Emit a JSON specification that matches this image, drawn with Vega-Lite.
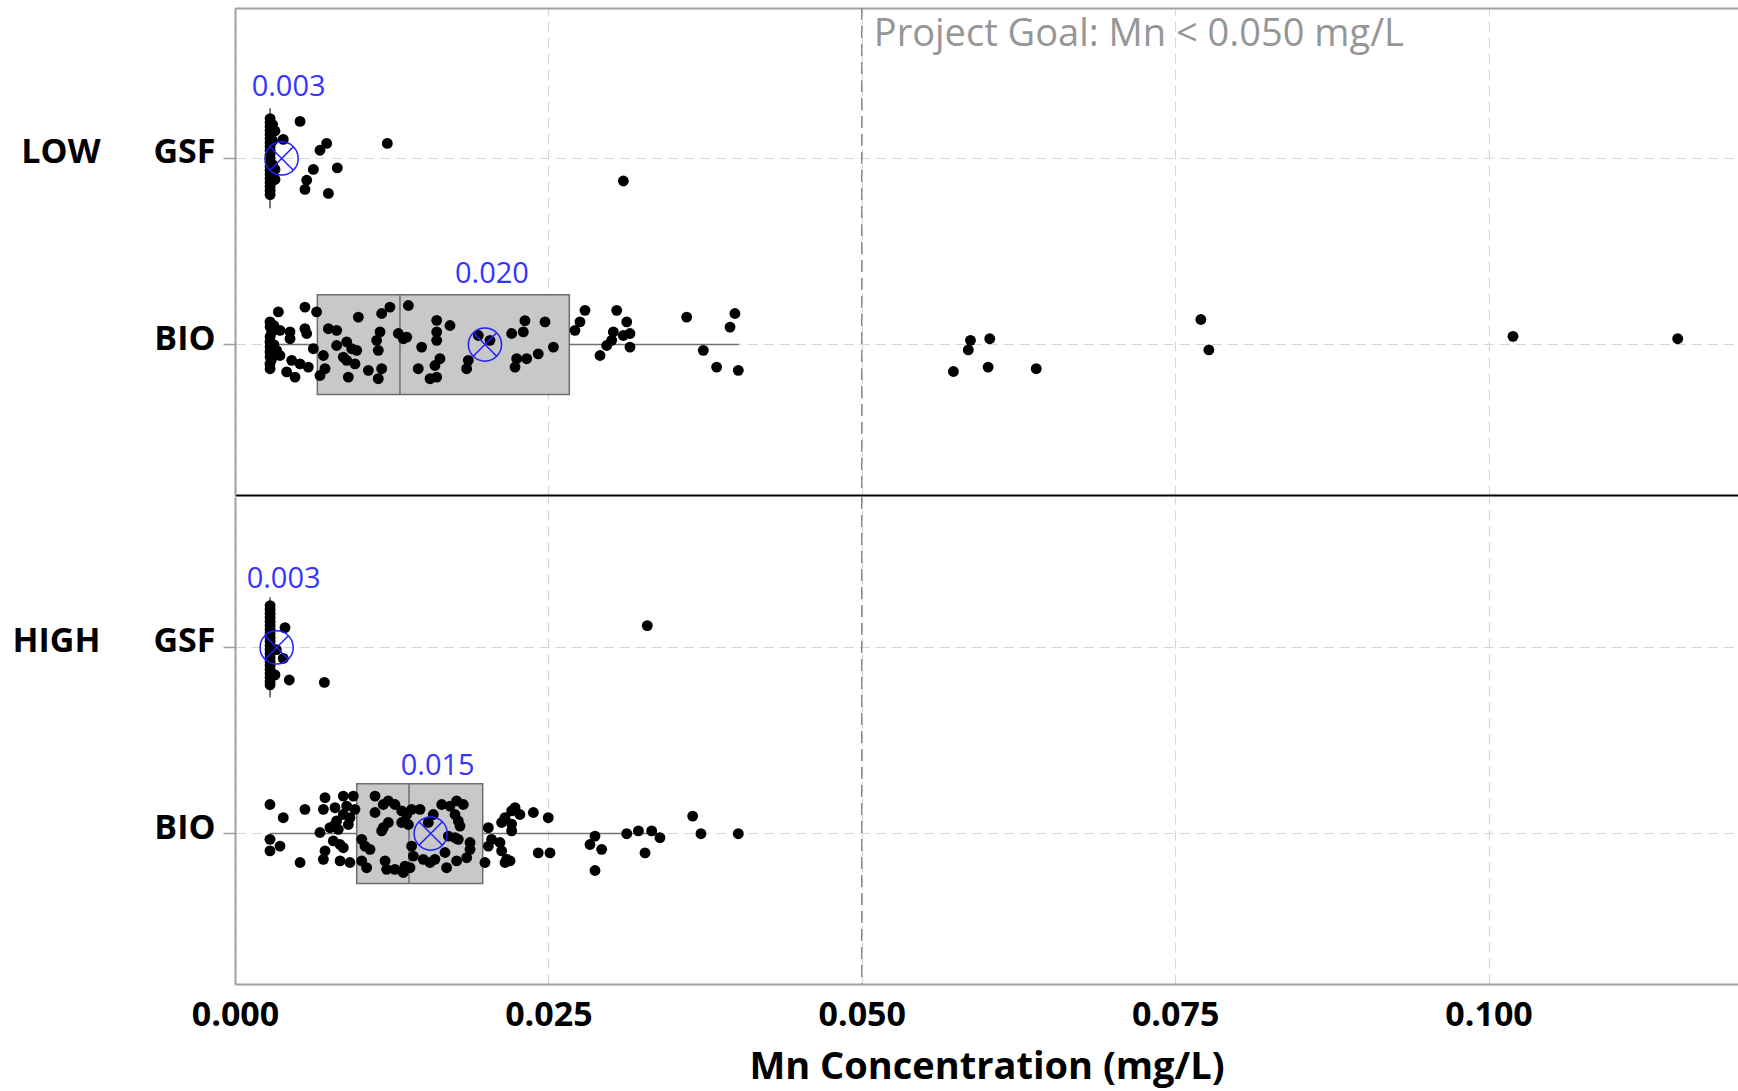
{
  "$schema": "https://vega.github.io/schema/vega-lite/v6.json",
  "background": "white",
  "padding": {"left": 10, "top": 7, "right": 0, "bottom": 5},
  "spacing": 0,
  "config": {
    "font": "Open Sans",
    "view": {"stroke": null},
    "concat": {"spacing": 0}
  },
  "datasets": {
    "stats": [
      {"l":"LOW","t":"GSF","lo":0.0028,"q1":0.0028,"med":0.0028,"q3":0.0028,"hi":0.0028,"mean":0.00372,"label":"0.003"},
      {"l":"LOW","t":"BIO","lo":0.0028,"q1":0.00657,"med":0.01316,"q3":0.02667,"hi":0.0402,"mean":0.01994,"label":"0.020"},
      {"l":"HIGH","t":"GSF","lo":0.0028,"q1":0.0028,"med":0.0028,"q3":0.0028,"hi":0.0028,"mean":0.00332,"label":"0.003"},
      {"l":"HIGH","t":"BIO","lo":0.0028,"q1":0.00971,"med":0.01388,"q3":0.01976,"hi":0.0339,"mean":0.01561,"label":"0.015"}
    ],
    "pts": [
      {"l":"LOW","t":"GSF","v":0.0028,"j":-1.0},{"l":"LOW","t":"GSF","v":0.0028,"j":-0.9},{"l":"LOW","t":"GSF","v":0.0028,"j":-0.8},{"l":"LOW","t":"GSF","v":0.0028,"j":-0.7},{"l":"LOW","t":"GSF","v":0.0028,"j":-0.6},{"l":"LOW","t":"GSF","v":0.0028,"j":-0.5},{"l":"LOW","t":"GSF","v":0.0028,"j":-0.4},{"l":"LOW","t":"GSF","v":0.0028,"j":-0.3},{"l":"LOW","t":"GSF","v":0.0028,"j":-0.2},{"l":"LOW","t":"GSF","v":0.0028,"j":-0.1},{"l":"LOW","t":"GSF","v":0.0028,"j":0.0},{"l":"LOW","t":"GSF","v":0.0028,"j":0.1},{"l":"LOW","t":"GSF","v":0.0028,"j":0.2},{"l":"LOW","t":"GSF","v":0.0028,"j":0.3},{"l":"LOW","t":"GSF","v":0.0028,"j":0.4},{"l":"LOW","t":"GSF","v":0.0028,"j":0.5},{"l":"LOW","t":"GSF","v":0.0028,"j":0.6},{"l":"LOW","t":"GSF","v":0.0028,"j":0.7},{"l":"LOW","t":"GSF","v":0.0028,"j":0.8},{"l":"LOW","t":"GSF","v":0.0028,"j":0.9},
      {"l":"LOW","t":"GSF","v":0.0030,"j":-0.85},{"l":"LOW","t":"GSF","v":0.0030,"j":-0.45},{"l":"LOW","t":"GSF","v":0.0030,"j":0.15},{"l":"LOW","t":"GSF","v":0.0030,"j":0.55},
      {"l":"LOW","t":"GSF","v":0.00319,"j":-0.69},{"l":"LOW","t":"GSF","v":0.00385,"j":-0.48},{"l":"LOW","t":"GSF","v":0.00519,"j":-0.93},{"l":"LOW","t":"GSF","v":0.00731,"j":-0.38},{"l":"LOW","t":"GSF","v":0.00678,"j":-0.21},{"l":"LOW","t":"GSF","v":0.00625,"j":0.27},{"l":"LOW","t":"GSF","v":0.00816,"j":0.23},{"l":"LOW","t":"GSF","v":0.00572,"j":0.54},{"l":"LOW","t":"GSF","v":0.00558,"j":0.77},{"l":"LOW","t":"GSF","v":0.00745,"j":0.87},{"l":"LOW","t":"GSF","v":0.01215,"j":-0.38},{"l":"LOW","t":"GSF","v":0.03098,"j":0.56},{"l":"LOW","t":"GSF","v":0.00319,"j":0.27},{"l":"LOW","t":"GSF","v":0.00319,"j":0.52},

      {"l":"LOW","t":"BIO","v":0.00346,"j":-0.82},{"l":"LOW","t":"BIO","v":0.00558,"j":-0.94},{"l":"LOW","t":"BIO","v":0.00651,"j":-0.82},{"l":"LOW","t":"BIO","v":0.00279,"j":-0.57},{"l":"LOW","t":"BIO","v":0.00293,"j":-0.32},{"l":"LOW","t":"BIO","v":0.00279,"j":-0.07},{"l":"LOW","t":"BIO","v":0.00279,"j":0.18},{"l":"LOW","t":"BIO","v":0.00279,"j":0.48},{"l":"LOW","t":"BIO","v":0.00359,"j":-0.36},{"l":"LOW","t":"BIO","v":0.00439,"j":-0.32},{"l":"LOW","t":"BIO","v":0.00439,"j":-0.15},{"l":"LOW","t":"BIO","v":0.00558,"j":-0.4},{"l":"LOW","t":"BIO","v":0.00572,"j":-0.28},{"l":"LOW","t":"BIO","v":0.00332,"j":0.14},{"l":"LOW","t":"BIO","v":0.00359,"j":0.27},{"l":"LOW","t":"BIO","v":0.00452,"j":0.39},{"l":"LOW","t":"BIO","v":0.00519,"j":0.48},{"l":"LOW","t":"BIO","v":0.00585,"j":0.56},{"l":"LOW","t":"BIO","v":0.00412,"j":0.68},{"l":"LOW","t":"BIO","v":0.00479,"j":0.81},
      {"l":"LOW","t":"BIO","v":0.00625,"j":0.1},{"l":"LOW","t":"BIO","v":0.00705,"j":0.27},{"l":"LOW","t":"BIO","v":0.00718,"j":0.6},{"l":"LOW","t":"BIO","v":0.00678,"j":0.77},{"l":"LOW","t":"BIO","v":0.00745,"j":-0.4},{"l":"LOW","t":"BIO","v":0.00811,"j":-0.36},{"l":"LOW","t":"BIO","v":0.00984,"j":-0.69},{"l":"LOW","t":"BIO","v":0.0117,"j":-0.78},{"l":"LOW","t":"BIO","v":0.01236,"j":-0.94},{"l":"LOW","t":"BIO","v":0.00811,"j":0.02},{"l":"LOW","t":"BIO","v":0.00891,"j":-0.07},{"l":"LOW","t":"BIO","v":0.00931,"j":0.1},{"l":"LOW","t":"BIO","v":0.00971,"j":0.14},{"l":"LOW","t":"BIO","v":0.00864,"j":0.31},{"l":"LOW","t":"BIO","v":0.00891,"j":0.39},{"l":"LOW","t":"BIO","v":0.00957,"j":0.48},{"l":"LOW","t":"BIO","v":0.01064,"j":0.64},{"l":"LOW","t":"BIO","v":0.0117,"j":0.6},{"l":"LOW","t":"BIO","v":0.01143,"j":0.85},{"l":"LOW","t":"BIO","v":0.00904,"j":0.81},
      {"l":"LOW","t":"BIO","v":0.01157,"j":-0.32},{"l":"LOW","t":"BIO","v":0.0113,"j":-0.11},{"l":"LOW","t":"BIO","v":0.01143,"j":0.14},{"l":"LOW","t":"BIO","v":0.01303,"j":-0.28},{"l":"LOW","t":"BIO","v":0.01343,"j":-0.15},{"l":"LOW","t":"BIO","v":0.0137,"j":-0.19},{"l":"LOW","t":"BIO","v":0.01383,"j":-0.98},{"l":"LOW","t":"BIO","v":0.01489,"j":0.06},{"l":"LOW","t":"BIO","v":0.01609,"j":-0.61},{"l":"LOW","t":"BIO","v":0.01609,"j":-0.32},{"l":"LOW","t":"BIO","v":0.01609,"j":-0.11},{"l":"LOW","t":"BIO","v":0.01715,"j":-0.48},{"l":"LOW","t":"BIO","v":0.01462,"j":0.6},{"l":"LOW","t":"BIO","v":0.01556,"j":0.85},{"l":"LOW","t":"BIO","v":0.01609,"j":0.81},{"l":"LOW","t":"BIO","v":0.01635,"j":0.35},{"l":"LOW","t":"BIO","v":0.01595,"j":0.52},{"l":"LOW","t":"BIO","v":0.01861,"j":0.39},{"l":"LOW","t":"BIO","v":0.01848,"j":0.6},{"l":"LOW","t":"BIO","v":0.01941,"j":-0.23},{"l":"LOW","t":"BIO","v":0.02034,"j":-0.11},
      {"l":"LOW","t":"BIO","v":0.0028,"j":-0.45},{"l":"LOW","t":"BIO","v":0.0028,"j":-0.2},{"l":"LOW","t":"BIO","v":0.0028,"j":0.05},{"l":"LOW","t":"BIO","v":0.0028,"j":0.3},{"l":"LOW","t":"BIO","v":0.0028,"j":0.6},{"l":"LOW","t":"BIO","v":0.0031,"j":-0.48},{"l":"LOW","t":"BIO","v":0.0030,"j":0.27},{"l":"LOW","t":"BIO","v":0.0031,"j":0.0},{"l":"LOW","t":"BIO","v":0.0029,"j":0.38},
      {"l":"LOW","t":"BIO","v":0.02313,"j":-0.6},{"l":"LOW","t":"BIO","v":0.023,"j":-0.32},{"l":"LOW","t":"BIO","v":0.02473,"j":-0.57},{"l":"LOW","t":"BIO","v":0.0254,"j":0.06},{"l":"LOW","t":"BIO","v":0.02247,"j":0.35},{"l":"LOW","t":"BIO","v":0.02234,"j":0.56},{"l":"LOW","t":"BIO","v":0.02327,"j":0.35},{"l":"LOW","t":"BIO","v":0.02419,"j":0.23},{"l":"LOW","t":"BIO","v":0.02207,"j":-0.28},{"l":"LOW","t":"BIO","v":0.02792,"j":-0.86},{"l":"LOW","t":"BIO","v":0.02752,"j":-0.57},{"l":"LOW","t":"BIO","v":0.02712,"j":-0.36},{"l":"LOW","t":"BIO","v":0.03045,"j":-0.86},{"l":"LOW","t":"BIO","v":0.03125,"j":-0.57},{"l":"LOW","t":"BIO","v":0.03018,"j":-0.32},{"l":"LOW","t":"BIO","v":0.03098,"j":-0.23},{"l":"LOW","t":"BIO","v":0.03151,"j":-0.28},{"l":"LOW","t":"BIO","v":0.03005,"j":-0.11},{"l":"LOW","t":"BIO","v":0.02965,"j":0.02},{"l":"LOW","t":"BIO","v":0.03151,"j":0.06},{"l":"LOW","t":"BIO","v":0.02912,"j":0.27},{"l":"LOW","t":"BIO","v":0.03603,"j":-0.69},{"l":"LOW","t":"BIO","v":0.03736,"j":0.14},{"l":"LOW","t":"BIO","v":0.03842,"j":0.56},{"l":"LOW","t":"BIO","v":0.04015,"j":0.64},{"l":"LOW","t":"BIO","v":0.03949,"j":-0.44},{"l":"LOW","t":"BIO","v":0.03988,"j":-0.78},
      {"l":"LOW","t":"BIO","v":0.05731,"j":0.67},{"l":"LOW","t":"BIO","v":0.0585,"j":0.13},{"l":"LOW","t":"BIO","v":0.05867,"j":-0.11},{"l":"LOW","t":"BIO","v":0.06021,"j":-0.15},{"l":"LOW","t":"BIO","v":0.06008,"j":0.56},{"l":"LOW","t":"BIO","v":0.06392,"j":0.6},{"l":"LOW","t":"BIO","v":0.07705,"j":-0.63},{"l":"LOW","t":"BIO","v":0.07769,"j":0.13},{"l":"LOW","t":"BIO","v":0.10195,"j":-0.21},{"l":"LOW","t":"BIO","v":0.11509,"j":-0.15},

      {"l":"HIGH","t":"GSF","v":0.0028,"j":-1.05},{"l":"HIGH","t":"GSF","v":0.0028,"j":-0.95},{"l":"HIGH","t":"GSF","v":0.0028,"j":-0.85},{"l":"HIGH","t":"GSF","v":0.0028,"j":-0.75},{"l":"HIGH","t":"GSF","v":0.0028,"j":-0.65},{"l":"HIGH","t":"GSF","v":0.0028,"j":-0.55},{"l":"HIGH","t":"GSF","v":0.0028,"j":-0.45},{"l":"HIGH","t":"GSF","v":0.0028,"j":-0.35},{"l":"HIGH","t":"GSF","v":0.0028,"j":-0.25},{"l":"HIGH","t":"GSF","v":0.0028,"j":-0.15},{"l":"HIGH","t":"GSF","v":0.0028,"j":-0.05},{"l":"HIGH","t":"GSF","v":0.0028,"j":0.05},{"l":"HIGH","t":"GSF","v":0.0028,"j":0.15},{"l":"HIGH","t":"GSF","v":0.0028,"j":0.25},{"l":"HIGH","t":"GSF","v":0.0028,"j":0.35},{"l":"HIGH","t":"GSF","v":0.0028,"j":0.45},{"l":"HIGH","t":"GSF","v":0.0028,"j":0.55},{"l":"HIGH","t":"GSF","v":0.0028,"j":0.65},{"l":"HIGH","t":"GSF","v":0.0028,"j":0.75},{"l":"HIGH","t":"GSF","v":0.0028,"j":0.85},{"l":"HIGH","t":"GSF","v":0.0028,"j":0.93},
      {"l":"HIGH","t":"GSF","v":0.00399,"j":-0.5},{"l":"HIGH","t":"GSF","v":0.00433,"j":0.81},{"l":"HIGH","t":"GSF","v":0.00713,"j":0.87},{"l":"HIGH","t":"GSF","v":0.03289,"j":-0.55},{"l":"HIGH","t":"GSF","v":0.00385,"j":0.27},{"l":"HIGH","t":"GSF","v":0.00319,"j":0.68},{"l":"HIGH","t":"GSF","v":0.0033,"j":0.05},

      {"l":"HIGH","t":"BIO","v":0.00279,"j":-0.73},{"l":"HIGH","t":"BIO","v":0.00385,"j":-0.4},{"l":"HIGH","t":"BIO","v":0.00558,"j":-0.61},{"l":"HIGH","t":"BIO","v":0.00279,"j":0.14},{"l":"HIGH","t":"BIO","v":0.00279,"j":0.43},{"l":"HIGH","t":"BIO","v":0.00359,"j":0.31},{"l":"HIGH","t":"BIO","v":0.00519,"j":0.72},{"l":"HIGH","t":"BIO","v":0.00718,"j":-0.9},{"l":"HIGH","t":"BIO","v":0.00705,"j":-0.61},{"l":"HIGH","t":"BIO","v":0.00718,"j":0.43},{"l":"HIGH","t":"BIO","v":0.00705,"j":0.64},{"l":"HIGH","t":"BIO","v":0.00678,"j":-0.03},{"l":"HIGH","t":"BIO","v":0.00758,"j":-0.15},{"l":"HIGH","t":"BIO","v":0.00811,"j":-0.32},{"l":"HIGH","t":"BIO","v":0.00798,"j":-0.65},{"l":"HIGH","t":"BIO","v":0.00864,"j":-0.94},{"l":"HIGH","t":"BIO","v":0.00891,"j":-0.69},{"l":"HIGH","t":"BIO","v":0.00944,"j":-0.94},{"l":"HIGH","t":"BIO","v":0.00957,"j":-0.61},{"l":"HIGH","t":"BIO","v":0.00917,"j":-0.4},{"l":"HIGH","t":"BIO","v":0.00864,"j":-0.48},{"l":"HIGH","t":"BIO","v":0.00784,"j":0.18},{"l":"HIGH","t":"BIO","v":0.00838,"j":0.27},{"l":"HIGH","t":"BIO","v":0.00864,"j":0.35},{"l":"HIGH","t":"BIO","v":0.00824,"j":-0.11},{"l":"HIGH","t":"BIO","v":0.00838,"j":0.68},{"l":"HIGH","t":"BIO","v":0.00917,"j":0.72},{"l":"HIGH","t":"BIO","v":0.00798,"j":-0.23},{"l":"HIGH","t":"BIO","v":0.00904,"j":-0.23},
      {"l":"HIGH","t":"BIO","v":0.01011,"j":0.14},{"l":"HIGH","t":"BIO","v":0.01037,"j":0.31},{"l":"HIGH","t":"BIO","v":0.01077,"j":0.39},{"l":"HIGH","t":"BIO","v":0.01011,"j":0.68},{"l":"HIGH","t":"BIO","v":0.0105,"j":0.85},{"l":"HIGH","t":"BIO","v":0.01117,"j":-0.94},{"l":"HIGH","t":"BIO","v":0.01117,"j":-0.53},{"l":"HIGH","t":"BIO","v":0.01183,"j":-0.73},{"l":"HIGH","t":"BIO","v":0.01223,"j":-0.82},{"l":"HIGH","t":"BIO","v":0.01276,"j":-0.73},{"l":"HIGH","t":"BIO","v":0.0133,"j":-0.57},{"l":"HIGH","t":"BIO","v":0.0137,"j":-0.48},{"l":"HIGH","t":"BIO","v":0.01409,"j":-0.61},{"l":"HIGH","t":"BIO","v":0.01476,"j":-0.61},{"l":"HIGH","t":"BIO","v":0.01183,"j":-0.15},{"l":"HIGH","t":"BIO","v":0.0117,"j":-0.07},{"l":"HIGH","t":"BIO","v":0.01223,"j":-0.28},{"l":"HIGH","t":"BIO","v":0.01197,"j":0.68},{"l":"HIGH","t":"BIO","v":0.0121,"j":0.89},{"l":"HIGH","t":"BIO","v":0.01276,"j":0.89},{"l":"HIGH","t":"BIO","v":0.01356,"j":0.81},{"l":"HIGH","t":"BIO","v":0.01343,"j":0.97},{"l":"HIGH","t":"BIO","v":0.0133,"j":-0.28},{"l":"HIGH","t":"BIO","v":0.01383,"j":-0.23},{"l":"HIGH","t":"BIO","v":0.01409,"j":0.31},{"l":"HIGH","t":"BIO","v":0.01423,"j":0.56},{"l":"HIGH","t":"BIO","v":0.01396,"j":0.85},
      {"l":"HIGH","t":"BIO","v":0.01542,"j":-0.28},{"l":"HIGH","t":"BIO","v":0.01582,"j":-0.48},{"l":"HIGH","t":"BIO","v":0.01502,"j":0.64},{"l":"HIGH","t":"BIO","v":0.01556,"j":0.72},{"l":"HIGH","t":"BIO","v":0.01595,"j":0.64},{"l":"HIGH","t":"BIO","v":0.01649,"j":-0.73},{"l":"HIGH","t":"BIO","v":0.01715,"j":-0.69},{"l":"HIGH","t":"BIO","v":0.01768,"j":-0.82},{"l":"HIGH","t":"BIO","v":0.01821,"j":-0.73},{"l":"HIGH","t":"BIO","v":0.01755,"j":-0.48},{"l":"HIGH","t":"BIO","v":0.01781,"j":-0.32},{"l":"HIGH","t":"BIO","v":0.01795,"j":-0.19},{"l":"HIGH","t":"BIO","v":0.01702,"j":0.06},{"l":"HIGH","t":"BIO","v":0.01755,"j":0.1},{"l":"HIGH","t":"BIO","v":0.01781,"j":0.14},{"l":"HIGH","t":"BIO","v":0.01675,"j":0.47},{"l":"HIGH","t":"BIO","v":0.01688,"j":0.85},{"l":"HIGH","t":"BIO","v":0.01768,"j":0.68},{"l":"HIGH","t":"BIO","v":0.01848,"j":0.6},{"l":"HIGH","t":"BIO","v":0.01875,"j":0.22},{"l":"HIGH","t":"BIO","v":0.01875,"j":0.39},{"l":"HIGH","t":"BIO","v":0.01994,"j":0.72},{"l":"HIGH","t":"BIO","v":0.02021,"j":-0.15},{"l":"HIGH","t":"BIO","v":0.02047,"j":0.14},{"l":"HIGH","t":"BIO","v":0.02021,"j":0.31},{"l":"HIGH","t":"BIO","v":0.02127,"j":-0.28},{"l":"HIGH","t":"BIO","v":0.02154,"j":-0.4},{"l":"HIGH","t":"BIO","v":0.02207,"j":-0.57},{"l":"HIGH","t":"BIO","v":0.02234,"j":-0.65},{"l":"HIGH","t":"BIO","v":0.02273,"j":-0.48},{"l":"HIGH","t":"BIO","v":0.02114,"j":0.22},{"l":"HIGH","t":"BIO","v":0.02127,"j":0.43},{"l":"HIGH","t":"BIO","v":0.02154,"j":0.72},{"l":"HIGH","t":"BIO","v":0.02167,"j":0.64},
      {"l":"HIGH","t":"BIO","v":0.0238,"j":-0.53},{"l":"HIGH","t":"BIO","v":0.02499,"j":-0.4},{"l":"HIGH","t":"BIO","v":0.02207,"j":-0.24},{"l":"HIGH","t":"BIO","v":0.02207,"j":-0.07},{"l":"HIGH","t":"BIO","v":0.02419,"j":0.48},{"l":"HIGH","t":"BIO","v":0.02513,"j":0.48},{"l":"HIGH","t":"BIO","v":0.02194,"j":0.68},{"l":"HIGH","t":"BIO","v":0.02872,"j":0.06},{"l":"HIGH","t":"BIO","v":0.02832,"j":0.27},{"l":"HIGH","t":"BIO","v":0.02925,"j":0.39},{"l":"HIGH","t":"BIO","v":0.02872,"j":0.92},{"l":"HIGH","t":"BIO","v":0.03125,"j":0.0},{"l":"HIGH","t":"BIO","v":0.03218,"j":-0.07},{"l":"HIGH","t":"BIO","v":0.03324,"j":-0.07},{"l":"HIGH","t":"BIO","v":0.0339,"j":0.1},{"l":"HIGH","t":"BIO","v":0.03271,"j":0.48},{"l":"HIGH","t":"BIO","v":0.03651,"j":-0.44},{"l":"HIGH","t":"BIO","v":0.03717,"j":0.0},{"l":"HIGH","t":"BIO","v":0.04015,"j":0.0}
    ]
  },
  "vconcat": [
    {
      "width": 1503,
      "height": 487,
      "resolve": {"axis": {"x": "independent"}, "scale": {"yOffset": "independent"}},
      "layer": [
        {
          "data": {"values": [{}]},
          "mark": {"type": "rule", "color": "#8c8c8c", "strokeDash": [12, 6], "strokeWidth": 1.5},
          "encoding": {
            "x": {"datum": 0.05, "type": "quantitative", "scale": {"domain": [0, 0.1199], "nice": false, "zero": false}, "axis": null}
          }
        },
        {
          "data": {"name": "stats"},
          "transform": [{"filter": "datum.l == 'LOW'"}],
          "mark": {"type": "rule", "color": "#707070", "strokeWidth": 1.5},
          "encoding": {
            "x": {"field": "lo", "type": "quantitative", "scale": {"domain": [0, 0.1199], "nice": false, "zero": false}, "axis": null},
            "x2": {"field": "q1"},
            "y": {"field": "t", "type": "nominal", "scale": {"type": "band", "domain": ["GSF", "BIO"], "paddingInner": 0.4644, "paddingOuter": 0.5407},
              "axis": {"orient": "left", "title": null, "bandPosition": 0.5, "grid": true, "gridDash": [10, 6], "gridColor": "#d6d6d6", "gridWidth": 1.2, "domainColor": "#a0a0a0", "domainWidth": 2, "tickColor": "#a0a0a0", "tickSize": 12, "tickWidth": 1.5, "labelFontSize": 34, "labelFontWeight": "bold", "labelColor": "#000000", "labelPadding": 8, "labelOffset": -5, "labelLimit": 400, "minExtent": 225, "maxExtent": 225,
                "labelExpr": "datum.value == 'GSF' ? 'LOW\u00a0\u00a0\u00a0\u00a0\u00a0\u00a0GSF' : datum.value"}}
          }
        },
        {
          "data": {"name": "stats"},
          "transform": [{"filter": "datum.l == 'LOW'"}],
          "mark": {"type": "rule", "color": "#707070", "strokeWidth": 1.5},
          "encoding": {
            "x": {"field": "q3", "type": "quantitative", "scale": {"domain": [0, 0.1199], "nice": false, "zero": false}, "axis": null},
            "x2": {"field": "hi"},
            "y": {"field": "t", "type": "nominal", "scale": {"type": "band", "domain": ["GSF", "BIO"], "paddingInner": 0.4644, "paddingOuter": 0.5407}}
          }
        },
        {
          "data": {"name": "stats"},
          "transform": [{"filter": "datum.l == 'LOW'"}],
          "mark": {"type": "bar", "fill": "#c8c8c8", "stroke": "#6e6e6e", "strokeWidth": 1.5, "height": {"band": 1}},
          "encoding": {
            "x": {"field": "q1", "type": "quantitative", "scale": {"domain": [0, 0.1199], "nice": false, "zero": false},
              "axis": {"orient": "bottom", "labels": false, "ticks": false, "title": null, "domainColor": "#000000", "domainWidth": 2, "grid": true, "gridDash": [10, 6], "gridColor": "#d6d6d6", "gridWidth": 1.2, "values": [0, 0.025, 0.05, 0.075, 0.1], "minExtent": 0, "maxExtent": 0}},
            "x2": {"field": "q3"},
            "y": {"field": "t", "type": "nominal", "scale": {"type": "band", "domain": ["GSF", "BIO"], "paddingInner": 0.4644, "paddingOuter": 0.5407}}
          }
        },
        {
          "data": {"name": "stats"},
          "transform": [{"filter": "datum.l == 'LOW'"}],
          "mark": {"type": "bar", "fill": null, "stroke": "#6e6e6e", "strokeWidth": 1.5, "height": {"band": 1}},
          "encoding": {
            "x": {"field": "med", "type": "quantitative", "scale": {"domain": [0, 0.1199], "nice": false, "zero": false},
              "axis": {"orient": "top", "labels": false, "ticks": false, "title": null, "grid": false, "domainColor": "#a0a0a0", "domainWidth": 2, "minExtent": 0, "maxExtent": 0}},
            "x2": {"field": "med"},
            "y": {"field": "t", "type": "nominal", "scale": {"type": "band", "domain": ["GSF", "BIO"], "paddingInner": 0.4644, "paddingOuter": 0.5407}}
          }
        },
        {
          "data": {"name": "pts"},
          "transform": [{"filter": "datum.l == 'LOW'"}],
          "mark": {"type": "circle", "color": "#000000", "opacity": 1, "size": 118},
          "encoding": {
            "x": {"field": "v", "type": "quantitative", "scale": {"domain": [0, 0.1199], "nice": false, "zero": false}, "axis": null},
            "y": {"field": "t", "type": "nominal", "scale": {"type": "band", "domain": ["GSF", "BIO"], "paddingInner": 0.4644, "paddingOuter": 0.5407}},
            "yOffset": {"field": "j", "type": "quantitative", "scale": {"domain": [-1, 1], "range": [10, 90]}}
          }
        },
        {
          "data": {"name": "stats"},
          "transform": [{"filter": "datum.l == 'LOW'"}],
          "mark": {"type": "point", "shape": "M1,0A1,1,0,1,1,-1,0A1,1,0,1,1,1,0M-0.7071,-0.7071L0.7071,0.7071M-0.7071,0.7071L0.7071,-0.7071", "filled": false, "stroke": "#1f1fff", "strokeWidth": 1.5, "size": 1100, "opacity": 1},
          "encoding": {
            "x": {"field": "mean", "type": "quantitative", "scale": {"domain": [0, 0.1199], "nice": false, "zero": false}, "axis": null},
            "y": {"field": "t", "type": "nominal", "scale": {"type": "band", "domain": ["GSF", "BIO"], "paddingInner": 0.4644, "paddingOuter": 0.5407}}
          }
        },
        {
          "data": {"name": "stats"},
          "transform": [{"filter": "datum.l == 'LOW'"}],
          "mark": {"type": "text", "fontSize": 29, "color": "#3535ff", "align": "center", "baseline": "middle", "dx": 7, "dy": -71},
          "encoding": {
            "x": {"field": "mean", "type": "quantitative", "scale": {"domain": [0, 0.1199], "nice": false, "zero": false}, "axis": null},
            "y": {"field": "t", "type": "nominal", "scale": {"type": "band", "domain": ["GSF", "BIO"], "paddingInner": 0.4644, "paddingOuter": 0.5407}},
            "text": {"field": "label"}
          }
        },
        {
          "data": {"values": [{"s": "Project Goal: Mn < 0.050 mg/L"}]},
          "mark": {"type": "text", "fontSize": 38, "color": "#969696", "align": "left", "baseline": "middle", "dx": 12, "dy": -123},
          "encoding": {
            "x": {"datum": 0.05, "type": "quantitative", "scale": {"domain": [0, 0.1199], "nice": false, "zero": false}, "axis": null},
            "y": {"datum": "GSF", "type": "nominal", "scale": {"type": "band", "domain": ["GSF", "BIO"], "paddingInner": 0.4644, "paddingOuter": 0.5407}},
            "text": {"field": "s"}
          }
        }
      ]
    },
    {
      "width": 1503,
      "height": 487,
      "resolve": {"scale": {"yOffset": "independent"}},
      "layer": [
        {
          "data": {"values": [{}]},
          "mark": {"type": "rule", "color": "#8c8c8c", "strokeDash": [12, 6], "strokeWidth": 1.5},
          "encoding": {
            "x": {"datum": 0.05, "type": "quantitative", "scale": {"domain": [0, 0.1199], "nice": false, "zero": false},
              "axis": {"orient": "bottom", "title": "Mn Concentration (mg/L)", "values": [0, 0.025, 0.05, 0.075, 0.1], "format": ".3f", "labelFlush": false, "labelOverlap": false, "labelFontSize": 34, "labelFontWeight": "bold", "labelColor": "#000000", "labelPadding": 14, "ticks": false, "titleFontSize": 38, "titleFontWeight": "bold", "titleColor": "#000000", "titlePadding": 16, "domainColor": "#a0a0a0", "domainWidth": 2, "grid": true, "gridDash": [10, 6], "gridColor": "#d6d6d6", "gridWidth": 1.2}}
          }
        },
        {
          "data": {"name": "stats"},
          "transform": [{"filter": "datum.l == 'HIGH'"}],
          "mark": {"type": "rule", "color": "#707070", "strokeWidth": 1.5},
          "encoding": {
            "x": {"field": "lo", "type": "quantitative", "scale": {"domain": [0, 0.1199], "nice": false, "zero": false}},
            "x2": {"field": "q1"},
            "y": {"field": "t", "type": "nominal", "scale": {"type": "band", "domain": ["GSF", "BIO"], "paddingInner": 0.4644, "paddingOuter": 0.5407},
              "axis": {"orient": "left", "title": null, "bandPosition": 0.5, "grid": true, "gridDash": [10, 6], "gridColor": "#d6d6d6", "gridWidth": 1.2, "domainColor": "#a0a0a0", "domainWidth": 2, "tickColor": "#a0a0a0", "tickSize": 12, "tickWidth": 1.5, "labelFontSize": 34, "labelFontWeight": "bold", "labelColor": "#000000", "labelPadding": 8, "labelOffset": -5, "labelLimit": 400, "minExtent": 225, "maxExtent": 225,
                "labelExpr": "datum.value == 'GSF' ? 'HIGH\u00a0\u00a0\u00a0\u00a0\u00a0\u00a0GSF' : datum.value"}}
          }
        },
        {
          "data": {"name": "stats"},
          "transform": [{"filter": "datum.l == 'HIGH'"}],
          "mark": {"type": "rule", "color": "#707070", "strokeWidth": 1.5},
          "encoding": {
            "x": {"field": "q3", "type": "quantitative", "scale": {"domain": [0, 0.1199], "nice": false, "zero": false}},
            "x2": {"field": "hi"},
            "y": {"field": "t", "type": "nominal", "scale": {"type": "band", "domain": ["GSF", "BIO"], "paddingInner": 0.4644, "paddingOuter": 0.5407}}
          }
        },
        {
          "data": {"name": "stats"},
          "transform": [{"filter": "datum.l == 'HIGH'"}],
          "mark": {"type": "bar", "fill": "#c8c8c8", "stroke": "#6e6e6e", "strokeWidth": 1.5, "height": {"band": 1}},
          "encoding": {
            "x": {"field": "q1", "type": "quantitative", "scale": {"domain": [0, 0.1199], "nice": false, "zero": false}},
            "x2": {"field": "q3"},
            "y": {"field": "t", "type": "nominal", "scale": {"type": "band", "domain": ["GSF", "BIO"], "paddingInner": 0.4644, "paddingOuter": 0.5407}}
          }
        },
        {
          "data": {"name": "stats"},
          "transform": [{"filter": "datum.l == 'HIGH'"}],
          "mark": {"type": "bar", "fill": null, "stroke": "#6e6e6e", "strokeWidth": 1.5, "height": {"band": 1}},
          "encoding": {
            "x": {"field": "med", "type": "quantitative", "scale": {"domain": [0, 0.1199], "nice": false, "zero": false}},
            "x2": {"field": "med"},
            "y": {"field": "t", "type": "nominal", "scale": {"type": "band", "domain": ["GSF", "BIO"], "paddingInner": 0.4644, "paddingOuter": 0.5407}}
          }
        },
        {
          "data": {"name": "pts"},
          "transform": [{"filter": "datum.l == 'HIGH'"}],
          "mark": {"type": "circle", "color": "#000000", "opacity": 1, "size": 118},
          "encoding": {
            "x": {"field": "v", "type": "quantitative", "scale": {"domain": [0, 0.1199], "nice": false, "zero": false}},
            "y": {"field": "t", "type": "nominal", "scale": {"type": "band", "domain": ["GSF", "BIO"], "paddingInner": 0.4644, "paddingOuter": 0.5407}},
            "yOffset": {"field": "j", "type": "quantitative", "scale": {"domain": [-1, 1], "range": [10, 90]}}
          }
        },
        {
          "data": {"name": "stats"},
          "transform": [{"filter": "datum.l == 'HIGH'"}],
          "mark": {"type": "point", "shape": "M1,0A1,1,0,1,1,-1,0A1,1,0,1,1,1,0M-0.7071,-0.7071L0.7071,0.7071M-0.7071,0.7071L0.7071,-0.7071", "filled": false, "stroke": "#1f1fff", "strokeWidth": 1.5, "size": 1100, "opacity": 1},
          "encoding": {
            "x": {"field": "mean", "type": "quantitative", "scale": {"domain": [0, 0.1199], "nice": false, "zero": false}},
            "y": {"field": "t", "type": "nominal", "scale": {"type": "band", "domain": ["GSF", "BIO"], "paddingInner": 0.4644, "paddingOuter": 0.5407}}
          }
        },
        {
          "data": {"name": "stats"},
          "transform": [{"filter": "datum.l == 'HIGH'"}],
          "mark": {"type": "text", "fontSize": 29, "color": "#3535ff", "align": "center", "baseline": "middle", "dx": 7, "dy": -68},
          "encoding": {
            "x": {"field": "mean", "type": "quantitative", "scale": {"domain": [0, 0.1199], "nice": false, "zero": false}},
            "y": {"field": "t", "type": "nominal", "scale": {"type": "band", "domain": ["GSF", "BIO"], "paddingInner": 0.4644, "paddingOuter": 0.5407}},
            "text": {"field": "label"}
          }
        }
      ]
    }
  ]
}
